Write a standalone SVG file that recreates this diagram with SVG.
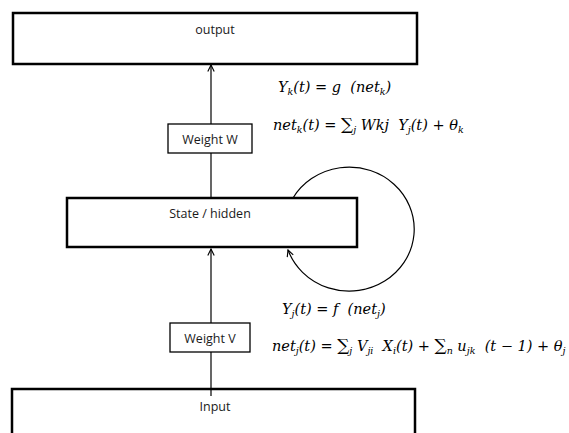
<svg xmlns="http://www.w3.org/2000/svg" width="569" height="433" viewBox="0 0 569 433">
<defs>
<style>
.box{fill:#fff;stroke:#000;stroke-width:2.5}
.wbox{fill:#fff;stroke:#000;stroke-width:1.3}
.lbl{font-family:"Open Sans","Liberation Sans",sans-serif;font-size:12.5px;fill:#1a1a1a;text-anchor:middle}
.eq{font-family:"DejaVu Serif","Liberation Serif",serif;font-style:italic;font-size:14.5px;fill:#000;white-space:pre}
.sub{font-size:9.5px}
.sig{font-size:17px;font-style:normal}
.con{fill:none;stroke:#000;stroke-width:1.2}
</style>
<marker id="arr" viewBox="0 0 10 10" refX="9" refY="5" markerWidth="8" markerHeight="8" orient="auto" markerUnits="userSpaceOnUse">
<path d="M1,1 L9,5 L1,9" fill="none" stroke="#000" stroke-width="1.4"/>
</marker>
</defs>
<g id="output"><rect class="box" x="13" y="13" width="404" height="51"/><text class="lbl" x="215" y="34">output</text></g>
<g id="state"><rect class="box" x="67" y="198" width="290" height="49"/><text class="lbl" x="210" y="218">State / hidden</text></g>
<g id="input"><rect class="box" x="12" y="389" width="403" height="50"/><text class="lbl" x="215" y="411">Input</text></g>
<g id="connectors">
<line class="con" x1="211" y1="124" x2="211" y2="65" marker-end="url(#arr)"/>
<line class="con" x1="211" y1="198" x2="211" y2="153"/>
<line class="con" x1="211" y1="323" x2="211" y2="249" marker-end="url(#arr)"/>
<line class="con" x1="211" y1="352" x2="211" y2="396"/>
<path class="con" d="M293,198 A65,62 0 1 1 288,250" stroke-width="1.8" marker-end="url(#arr)"/>
</g>
<g id="weightW"><rect class="wbox" x="168" y="124" width="84" height="29"/><text class="lbl" x="210" y="144">Weight W</text></g>
<g id="weightV"><rect class="wbox" x="170" y="323" width="80" height="29"/><text class="lbl" x="210" y="343">Weight V</text></g>
<g id="eqs" xml:space="preserve">
<text class="eq" x="278" y="92">Y<tspan class="sub" dy="3">k</tspan><tspan dy="-3">(t) = g  (net</tspan><tspan class="sub" dy="3">k</tspan><tspan dy="-3">)</tspan></text>
<text class="eq" x="273" y="130">net<tspan class="sub" dy="3">k</tspan><tspan dy="-3">(t) = </tspan><tspan class="sig">∑</tspan><tspan class="sub" dy="3">j</tspan><tspan dy="-3"> Wkj  Y</tspan><tspan class="sub" dy="3">j</tspan><tspan dy="-3">(t) + θ</tspan><tspan class="sub" dy="3">k</tspan></text>
<text class="eq" x="282" y="314">Y<tspan class="sub" dy="3">j</tspan><tspan dy="-3">(t) = f  (net</tspan><tspan class="sub" dy="3">j</tspan><tspan dy="-3">)</tspan></text>
<text class="eq" x="272" y="351">net<tspan class="sub" dy="3">j</tspan><tspan dy="-3">(t) = </tspan><tspan class="sig">∑</tspan><tspan class="sub" dy="3">j</tspan><tspan dy="-3"> V</tspan><tspan class="sub" dy="3">ji</tspan><tspan dy="-3">  X</tspan><tspan class="sub" dy="3">i</tspan><tspan dy="-3">(t) + </tspan><tspan class="sig">∑</tspan><tspan class="sub" dy="3">n</tspan><tspan dy="-3"> u</tspan><tspan class="sub" dy="3">jk</tspan><tspan dy="-3">  (t − 1) + θ</tspan><tspan class="sub" dy="3">j</tspan></text>
</g>
</svg>
